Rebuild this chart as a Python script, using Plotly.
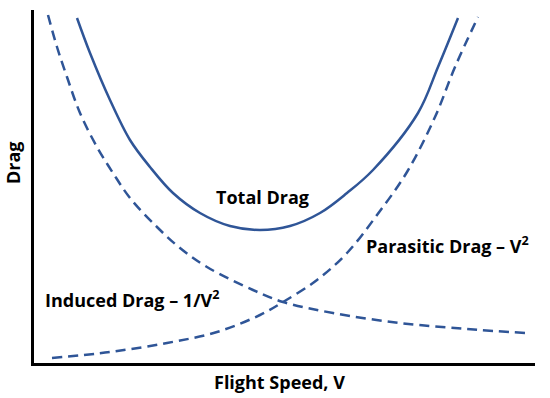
import plotly.graph_objects as go

# Values (speed units left→right, drag units bottom→top)
induced_v = [14, 23, 33, 46, 63, 79, 96, 123, 146, 173, 219, 249, 299, 366, 433, 491]
induced_d = [348, 316, 286, 250, 216, 190, 165, 136, 115, 96, 73, 61, 50, 40, 34, 30]

parasitic_v = [18, 76, 133, 183, 226, 249, 283, 313, 343, 373, 401, 421, 444]
parasitic_d = [5, 11, 20, 31, 48, 61, 83, 110, 148, 191, 246, 296, 346]

total_v = [43, 56, 76, 96, 116, 139, 166, 196, 226, 256, 286, 313, 339, 384, 404, 424]
total_d = [345, 310, 263, 223, 196, 170, 150, 137, 133, 137, 150, 170, 193, 250, 296, 345]

color = "#2F5597"
font = "Open Sans"

fig = go.Figure()
fig.add_trace(go.Scatter(x=induced_v, y=induced_d, mode="lines", line=dict(color=color, width=2.5, dash="10px,6px", shape="spline"), name="Induced Drag"))
fig.add_trace(go.Scatter(x=parasitic_v, y=parasitic_d, mode="lines", line=dict(color=color, width=2.5, dash="10px,6px", shape="spline"), name="Parasitic Drag"))
fig.add_trace(go.Scatter(x=total_v, y=total_d, mode="lines", line=dict(color=color, width=2.5, shape="spline"), name="Total Drag"))

tf = dict(family=font, size=18, color="black")
fig.add_annotation(x=228, y=166, text="<b>Total Drag</b>", showarrow=False, font=tf)
fig.add_annotation(x=330, y=118, text="<b>Parasitic Drag – V<sup>2</sup></b>", showarrow=False, font=tf, xanchor="left")
fig.add_annotation(x=9, y=64, text="<b>Induced Drag – 1/V<sup>2</sup></b>", showarrow=False, font=tf, xanchor="left")
# axis titles
fig.add_annotation(xref="paper", yref="paper", x=0.491, y=-0.054, text="<b>Flight Speed, V</b>",
                   showarrow=False, font=tf, xanchor="center", yanchor="middle")
fig.add_annotation(xref="paper", yref="paper", x=-0.042, y=0.569, text="<b>Drag</b>",
                   showarrow=False, font=tf, textangle=-90, xanchor="center", yanchor="middle")

fig.update_layout(
    width=550, height=398,
    margin=dict(l=34, r=15, t=10, b=35),
    paper_bgcolor="white", plot_bgcolor="white",
    showlegend=False,
    xaxis=dict(range=[0, 501], showgrid=False, zeroline=False, showticklabels=False, ticks="",
               showline=True, linecolor="black", linewidth=3),
    yaxis=dict(range=[0, 353], showgrid=False, zeroline=False, showticklabels=False, ticks="",
               showline=True, linecolor="black", linewidth=3),
)
fig.write_html("out.html", config={"displayModeBar": False},
               post_script="document.body.style.margin='0';")
